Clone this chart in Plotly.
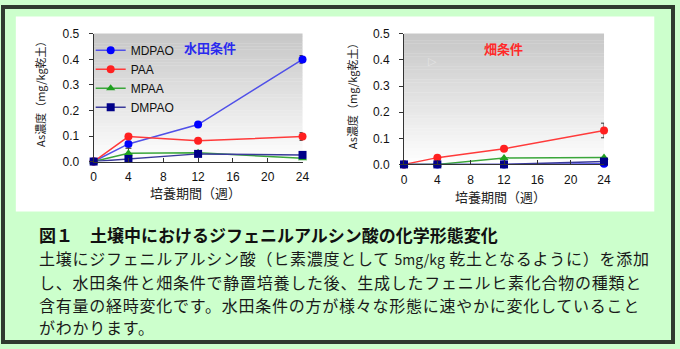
import plotly.graph_objects as go

W, H = 680, 349

weeks = [0, 4, 12, 24]
series_names = ["MDPAO", "PAA", "MPAA", "DMPAO"]

paddy_MDPAO = [0, 0.069, 0.145, 0.40]
paddy_PAA = [0, 0.098, 0.081, 0.098]
paddy_MPAA = [0, 0.032, 0.034, 0.013]
paddy_DMPAO = [0, 0.010, 0.030, 0.026]
paddy_err_MDPAO = [0, 0.004, 0.004, 0.015]
paddy_err_PAA = [0, 0.005, 0.004, 0.015]
paddy_err_MPAA = [0, 0.02, 0, 0]
paddy_err_DMPAO = [0, 0, 0, 0]

field_MDPAO = [0, 0, 0, 0.003]
field_PAA = [0, 0.026, 0.060, 0.130]
field_MPAA = [0, 0, 0.025, 0.027]
field_DMPAO = [0, 0, 0, 0.011]
field_err_PAA = [0, 0.002, 0.003, 0.028]

x_ticks = [0, 4, 8, 12, 16, 20, 24]
y_ticks = [0.0, 0.1, 0.2, 0.3, 0.4, 0.5]

styles = {
    "MDPAO": dict(line="#5050e8", marker="#0000ff", symbol="circle", size=8),
    "PAA": dict(line="#ff3a3a", marker="#ff2020", symbol="circle", size=8),
    "MPAA": dict(line="#3aa63a", marker="#20a020", symbol="triangle-up", size=8),
    "DMPAO": dict(line="#3a3a9a", marker="#000088", symbol="square", size=8),
}

paddy = {"MDPAO": (paddy_MDPAO, paddy_err_MDPAO), "PAA": (paddy_PAA, paddy_err_PAA),
         "MPAA": (paddy_MPAA, paddy_err_MPAA), "DMPAO": (paddy_DMPAO, paddy_err_DMPAO)}
field = {"MDPAO": (field_MDPAO, None), "PAA": (field_PAA, field_err_PAA),
         "MPAA": (field_MPAA, None), "DMPAO": (field_DMPAO, None)}

fig = go.Figure()


def add_series(data, xa, ya, show):
    for name in series_names:
        vals, err = data[name]
        st = styles[name]
        ey = None
        if err is not None:
            ey = dict(type="data", array=err, color="#333333", thickness=1, width=3)
        fig.add_trace(go.Scatter(
            x=weeks, y=vals, name=name, mode="lines+markers",
            xaxis=xa, yaxis=ya, showlegend=show, cliponaxis=False,
            line=dict(color=st["line"], width=1.5),
            marker=dict(color=st["marker"], symbol=st["symbol"], size=st["size"]),
            error_y=ey,
        ))


add_series(paddy, "x", "y", True)
add_series(field, "x2", "y2", False)


def px_x(p):
    return p / W


def px_y(p):
    return 1 - p / H


tickfont = dict(family="Liberation Sans, Arial", size=12, color="#111111")
xcommon = dict(range=[0, 24], tickvals=x_ticks, ticks="inside", ticklen=4, tickcolor="#333",
               showline=True, linecolor="#333", linewidth=1, showgrid=False, zeroline=False,
               tickfont=tickfont, ticklabelstandoff=4, fixedrange=True)
ycommon = dict(range=[0, 0.5], tickvals=y_ticks, tickformat=".1f", ticks="outside", ticklen=4,
               tickcolor="#333", showline=True, linecolor="#333", linewidth=1, showgrid=False,
               zeroline=False, tickfont=tickfont, ticklabelstandoff=7, fixedrange=True)

fig.update_layout(
    width=W, height=H, autosize=False,
    margin=dict(l=0, r=0, t=0, b=0, pad=0),
    paper_bgcolor="#ccffcc", plot_bgcolor="rgba(0,0,0,0)",
    xaxis=dict(domain=[px_x(92), px_x(304)], anchor="y", **xcommon),
    yaxis=dict(domain=[px_y(161), px_y(28)], anchor="x", **ycommon),
    xaxis2=dict(domain=[px_x(407), px_x(610)], anchor="y2", **xcommon),
    yaxis2=dict(domain=[px_y(164), px_y(28)], anchor="x2", **ycommon),
    showlegend=True,
    legend=dict(x=px_x(89), y=px_y(30), xanchor="left", yanchor="top",
                bgcolor="rgba(0,0,0,0)", borderwidth=0,
                font=dict(family="Liberation Sans, Arial", size=12, color="#111111")),
)

shapes = []
# outer border and white panel
shapes.append(dict(type="rect", xref="paper", yref="paper", x0=0, y0=0, x1=1, y1=1,
                   line=dict(color="#2e3a2e", width=4), fillcolor="#ccffcc", layer="below"))
shapes.append(dict(type="rect", xref="paper", yref="paper", x0=px_x(13), x1=px_x(661),
                   y0=px_y(213), y1=px_y(10), line=dict(width=0), fillcolor="#ffffff", layer="below"))

# gradient plot backgrounds
N = 40
for xr, yr in (("x domain", "y domain"), ("x2 domain", "y2 domain")):
    for i in range(N):
        t = (i + 0.5) / N  # 0 bottom -> 1 top
        g = int(round(255 - 57 * t))
        shapes.append(dict(type="rect", xref=xr, yref=yr, x0=0, x1=1, y0=i / N, y1=(i + 1) / N + 0.002,
                           line=dict(width=0), fillcolor=f"rgb({g},{g},{g})", layer="below"))
fig.update_layout(shapes=shapes)

jp = "Noto Sans CJK JP"
ann = []


def note(text, xp, yp, size, color, angle=0, family=jp, xanchor="center"):
    ann.append(dict(text=text, x=px_x(xp), y=px_y(yp), xref="paper", yref="paper",
                    xanchor=xanchor, yanchor="middle", textangle=angle, showarrow=False,
                    font=dict(family=family, size=size, color=color)))


# axis titles
note("As濃度（mg/kg乾土）", 37, 87, 11, "#222", angle=-90)
note("As濃度（mg/kg乾土）", 355, 90, 11, "#222", angle=-90)
note("培養期間（週）", 195, 193, 13, "#222")
note("培養期間（週）", 505, 197, 13, "#222")
# panel labels
note("<b>水田条件</b>", 210, 42, 13, "#2a2aee")
note("<b>畑条件</b>", 508, 43, 13, "#ff2a2a")
note("▷", 436, 57, 11, "#e4e4e4", family="DejaVu Sans")

# caption
caption_title = "図１　土壌中におけるジフェニルアルシン酸の化学形態変化"
caption_lines = [
    "土壌にジフェニルアルシン酸（ヒ素濃度として <span style=\"font-size:14px;letter-spacing:0px\">5mg/kg</span> 乾土となるように）を添加",
    "し、水田条件と畑条件で静置培養した後、生成したフェニルヒ素化合物の種類と",
    "含有量の経時変化です。水田条件の方が様々な形態に速やかに変化していること",
    "がわかります。",
]
caption_y = [262, 286, 310, 333]
note(f"<b>{caption_title}</b>", 34, 237, 17, "#111", xanchor="left")
for line, ys in zip(caption_lines, caption_y):
    note(f"<span style=\"letter-spacing:0.75px\">{line}</span>", 34, ys, 16, "#1a1a1a", xanchor="left")
fig.update_layout(annotations=ann)

fig.write_html("out.html")
